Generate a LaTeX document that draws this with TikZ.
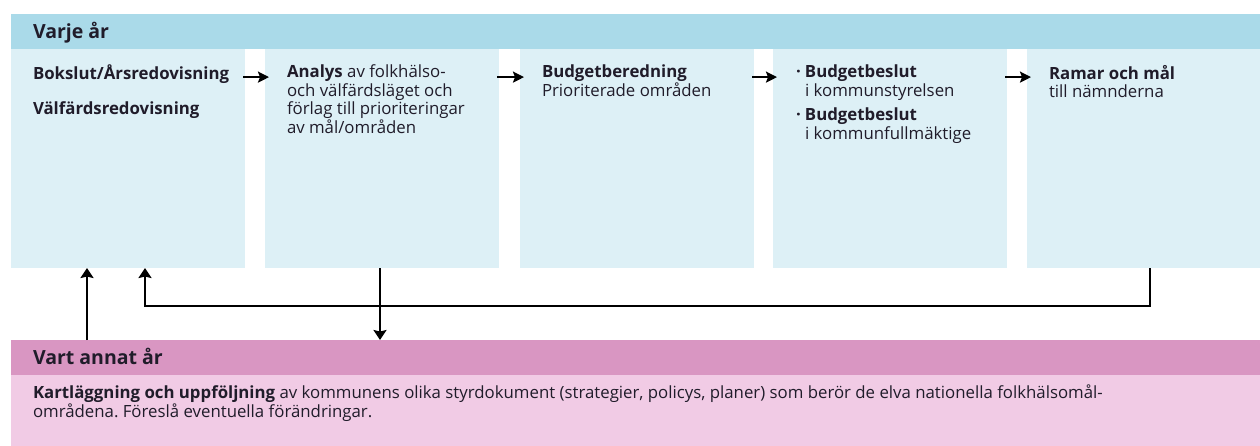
\documentclass[tikz,border=0pt]{standalone}
\usepackage{fontspec}
\setmainfont{Open Sans}
\usetikzlibrary{arrows.meta,calc}
\definecolor{bandblue}{RGB}{170,218,233}
\definecolor{colblue}{RGB}{221,240,246}
\definecolor{bandpink}{RGB}{217,150,194}
\definecolor{bodypink}{RGB}{241,203,229}
\definecolor{ink}{RGB}{32,28,42}
\frenchspacing

\begin{document}
\begin{tikzpicture}[x=1pt,y=-1pt,
  every node/.style={inner sep=0pt,outer sep=0pt,text=ink},
  band/.style={anchor=north west,minimum width=1249pt},
  col/.style={fill=colblue,anchor=north west,minimum width=234pt,minimum height=219pt},
  txt/.style={anchor=north west,align=left,font=\fontsize{16.8}{18.5}\selectfont,
    execute at begin node=\strut},
  head/.style={anchor=base west,font=\fontsize{19.5}{20}\selectfont\bfseries},
  flow/.style={-{Stealth[length=11pt,width=11pt,inset=2pt]},line width=2.6pt},
  back/.style={-{Stealth[length=10pt,width=13pt,inset=1.5pt]},line width=2.4pt}]
\useasboundingbox (0,0) rectangle (1260,445);

% every year
\node (hdr) [band,fill=bandblue,minimum height=35pt] at (11,14) {};
\node (hdrl) [head] at (33,38) {Varje år};
\foreach \x [count=\i] in {11,265,520,773,1027}
  \node (c\i) [col] at (\x,49) {};

\node (t1) [txt] at (33,65) {\textbf{Bokslut/Årsredovisning}};
\node (t1b) [txt] at (33,102) {\textbf{Välfärdsredovisning}};
\node (t2) [txt] at (287,65) {\textbf{Analys} av folkhälso-\\och välfärdsläget och\\förlag till prioriteringar\\av mål/områden};
\node (t3) [txt] at (542,65) {\textbf{Budgetberedning}\\Prioriterade områden};
\node (t4) [txt] at (796,65) {\makebox[9pt][l]{\textbf{·}}\textbf{Budgetbeslut}\\\hspace*{9pt}i kommunstyrelsen};
\node (t4b) [txt] at (796,108) {\makebox[9pt][l]{\textbf{·}}\textbf{Budgetbeslut}\\\hspace*{9pt}i kommunfullmäktige};
\node (t5) [txt] at (1049,65) {\textbf{Ramar och mål}\\till nämnderna};

\foreach \a/\b in {1/2,2/3,3/4,4/5}
  \draw [flow] ([xshift=-2pt]c\a.east |- t1.mid) -- ([xshift=4pt]c\b.west |- t1.mid);

% every other year
\node (vhdr) [band,fill=bandpink,minimum height=35pt] at (11,340) {};
\node (vbody) [band,fill=bodypink,minimum height=71pt] at (11,375) {};
\node (vhdrl) [head] at (33,364) {Vart annat år};
\node (vt) [txt] at (33,385) {\textbf{Kartläggning och uppföljning} av kommunens olika styrdokument (strategier, policys, planer) som berör de elva nationella folkhälsomål-\\områdena. Föreslå eventuella förändringar.};

\draw [back] ([xshift=76pt]c1.south west |- vhdr.north) -- ([xshift=76pt]c1.south west);
\draw [back] ([xshift=123pt]c5.south west) -- ++(0,38) -| ([xshift=134pt]c1.south west);
\draw [back] ([xshift=115pt]c2.south west) -- ([xshift=115pt]c2.south west |- vhdr.north);
\end{tikzpicture}
\end{document}
